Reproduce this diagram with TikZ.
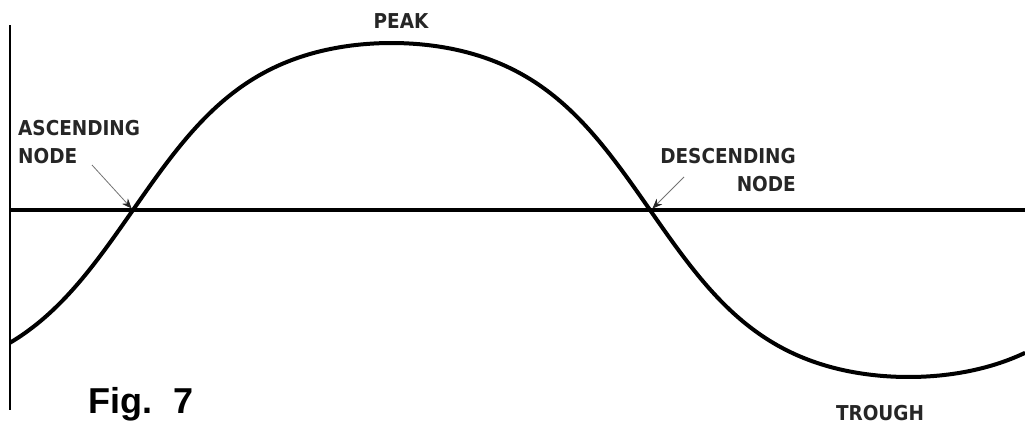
\documentclass[tikz,border=0pt]{standalone}
\usepackage{fontspec}
\newfontfamily\lblfont{DejaVu Sans Condensed}
\newfontfamily\figfont{Liberation Sans}
\usetikzlibrary{arrows.meta}

\begin{document}
\begin{tikzpicture}[
  x=1pt, y=-1pt,
  lbl/.style={font=\lblfont\bfseries\fontsize{20.5}{28}\selectfont, inner sep=0pt, text=black!85},
  pointer/.style={-{Stealth[length=10pt,width=8pt,color=black!85]}, line width=0.8pt, black!55, shorten >=2pt}
]
\useasboundingbox (0,0) rectangle (1025,423);

% axes
\draw[line width=2pt] (10,25) -- (10,410);
\draw[line width=4.5pt] (10,210) -- (1025,210);

% wave
\draw[line width=4pt, line join=round] plot[domain=-42.8:310.6, samples=120, smooth, variable=\t]
  ({133+\t*2.87222}, {210-167*sin(\t)/sqrt(sin(\t)^2+0.5*cos(\t)^2)});

\coordinate (ascnode) at (133,210);
\coordinate (descnode) at (651,210);
\coordinate (asctail) at (92,165);
\coordinate (desctail) at (684,177);

\node[lbl, anchor=north west, align=left] (asclbl) at (18,120) {ASCENDING\\NODE};
\node[lbl, anchor=north east, align=right] (desclbl) at (796,148) {DESCENDING\\NODE};
\node[lbl, anchor=base] (peak) at (401,28) {PEAK};
\node[lbl, anchor=base] (trough) at (880,420) {TROUGH};
\node[font=\figfont\bfseries\fontsize{36}{40}\selectfont, anchor=base west, inner sep=0pt] (fig) at (88,413) {Fig.\hspace{0.6em}7};

\draw[pointer] (asctail) -- (ascnode);
\draw[pointer] (desctail) -- (descnode);
\end{tikzpicture}
\end{document}
